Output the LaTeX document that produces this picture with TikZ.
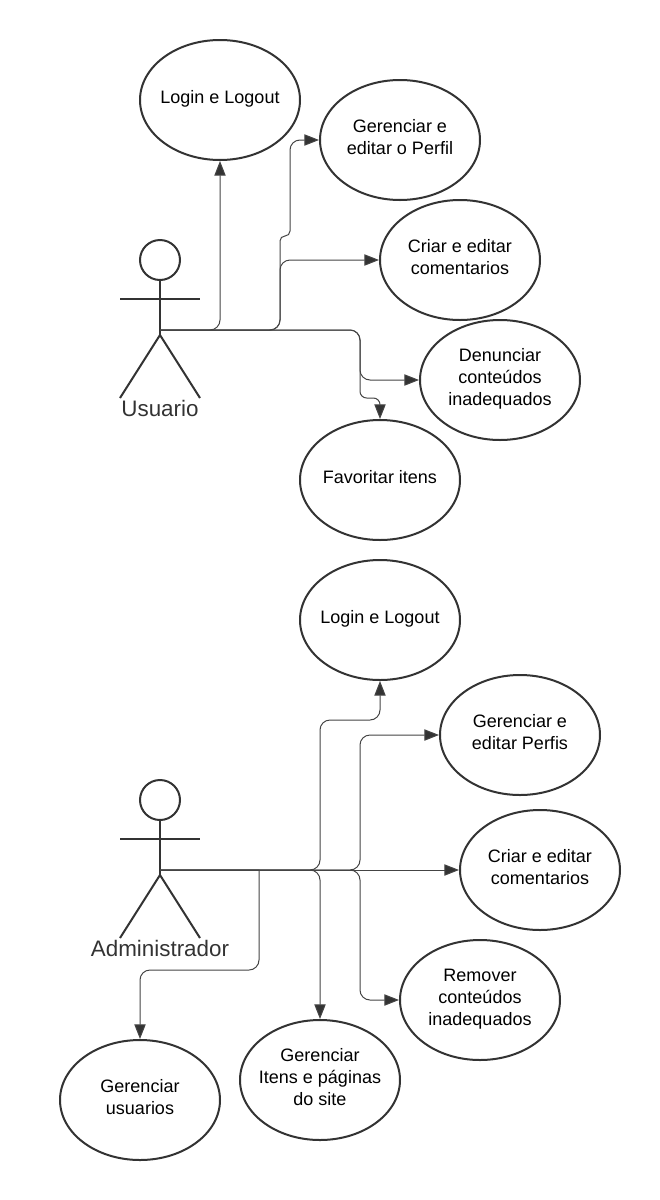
\documentclass[tikz,border=0pt]{standalone}
\usepackage{fontspec}
\setmainfont{Liberation Sans}
\usetikzlibrary{shapes.geometric,arrows.meta}
\tikzset{
  uc/.style={ellipse,draw=inkc,line width=1.5pt,minimum width=120pt,minimum height=90pt,inner xsep=-30pt,inner ysep=0pt,align=center,font=\fontsize{13.5}{16.5}\selectfont,text=black,text depth=4.5pt},
  conn/.style={draw=linec,line width=.75pt,rounded corners=7.5pt,-{Triangle[length=11pt,width=8.5pt,fill=inkc]}},
  limb/.style={draw=inkc,line width=1.5pt},
  actorlabel/.style={font=\fontsize{16.8}{20}\selectfont,text=inkc,inner sep=0pt}
}
\definecolor{inkc}{HTML}{333333}
\definecolor{linec}{HTML}{444444}
\begin{document}
\begin{tikzpicture}[x=.75pt,y=-.75pt]
\useasboundingbox (0,0) rectangle (660,1200);
% Usuario use cases
\node[uc] (login1) at (220,100) {Login e Logout};
\node[uc] (perfil1) at (400,140) {Gerenciar e\\editar o Perfil};
\node[uc] (coment1) at (460,260) {Criar e editar\\comentarios};
\node[uc] (denun) at (500,380) {Denunciar\\conteúdos\\inadequados};
\node[uc] (favor) at (380,480) {Favoritar itens};
% Administrador use cases
\node[uc] (login2) at (380,620) {Login e Logout};
\node[uc] (perfil2) at (520,735) {Gerenciar e\\editar Perfis};
\node[uc] (coment2) at (540,870) {Criar e editar\\comentarios};
\node[uc] (remov) at (480,1000) {Remover\\conteúdos\\inadequados};
\node[uc] (itens) at (320,1080) {Gerenciar\\Itens e páginas\\do site};
\node[uc] (usuar) at (140,1100) {Gerenciar\\usuarios};
% Actor Usuario
\node[circle,draw=inkc,line width=1.5pt,minimum size=30pt,inner sep=0pt] (headu) at (160,260) {};
\coordinate (hipu) at (160,335);
\coordinate (au) at (160,330);
\draw[limb] (headu.south) -- (hipu);
\draw[limb] (120,299) -- (200,299);
\draw[limb] (120,398) -- (hipu) -- (200,398);
\node[actorlabel] (labu) at (160,408) {Usuario};
% Actor Administrador
\node[circle,draw=inkc,line width=1.5pt,minimum size=30pt,inner sep=0pt] (heada) at (160,800) {};
\coordinate (hipa) at (160,875);
\coordinate (aa) at (160,870);
\draw[limb] (heada.south) -- (hipa);
\draw[limb] (120,839) -- (200,839);
\draw[limb] (120,938) -- (hipa) -- (200,938);
\node[actorlabel] (laba) at (160,948) {Administrador};
% Usuario connectors
\draw[conn] (au) -| (login1.south);
\draw[conn] (au) -- (280,330) [rounded corners=3.7pt] -- (280,236) -- (290,236) [rounded corners=7.5pt] -- (290,140) -- (perfil1.west);
\draw[conn] (au) -- (280,330) -- (280,260) -- (coment1.west);
\draw[conn] (au) -- (360,330) -- (360,380) -- (denun.west);
\draw[conn] (au) -- (360,330) [rounded corners=5pt] -- (360,398) -- (380,398) -- (favor.north);
% Administrador connectors
\draw[conn] (aa) -- (320,870) -- (320,720) -- (380,720) -- (login2.south);
\draw[conn] (aa) -- (360,870) -- (360,735) -- (perfil2.west);
\draw[conn] (aa) -- (coment2.west);
\draw[conn] (aa) -- (360,870) -- (360,1000) -- (remov.west);
\draw[conn] (aa) -| (itens.north);
\draw[conn,sharp corners] (aa) -- (259,870) -- (259,900) [rounded corners=7.5pt] -- (259,970) -- (140,970) -- (usuar.north);
\end{tikzpicture}
\end{document}
